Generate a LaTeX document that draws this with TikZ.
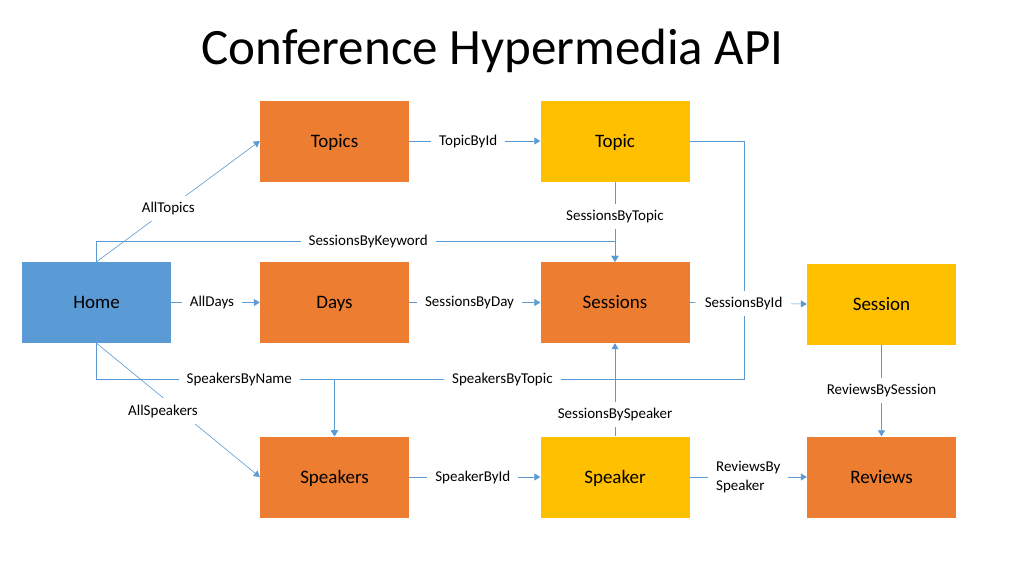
\documentclass[tikz,border=0pt]{standalone}
\usepackage{fontspec}
\setmainfont{Carlito}
\usetikzlibrary{arrows.meta}
\definecolor{hblue}{HTML}{5B9BD5}
\definecolor{horange}{HTML}{ED7D31}
\definecolor{hyellow}{HTML}{FFC000}
\definecolor{hline}{HTML}{5B9BD5}
\begin{document}
\begin{tikzpicture}[x=1pt,y=-1pt,
  box/.style={minimum width=149pt, minimum height=81pt, inner sep=0pt,
    text height=12.5pt, text depth=0pt,
    font=\fontsize{19}{21}\selectfont, text=black},
  bluebox/.style={box, fill=hblue},
  orangebox/.style={box, fill=horange},
  yellowbox/.style={box, fill=hyellow},
  conn/.style={draw=hline, line width=0.6pt, -{Triangle[width=7pt,length=6pt]}},
  lbl/.style={fill=white, inner xsep=8pt, inner ysep=6pt,
    font=\fontsize{15}{19}\selectfont, text=black},
  titlefont/.style={font=\fontsize{51}{56}\selectfont, text=black}]
\useasboundingbox (0,0) rectangle (1024,576);
\fill[white] (0,0) rectangle (1024,576);

\node[titlefont] (title) at (492.5,51) {Conference Hypermedia API};

\node[bluebox]   (home)     at (96.5,302.5) {Home};
\node[orangebox] (topics)   at (334.5,141)  {Topics};
\node[yellowbox] (topic)    at (615,141)    {Topic};
\node[orangebox] (days)     at (334.5,302.5) {Days};
\node[orangebox] (sessions) at (615,302.5)  {Sessions};
\node[yellowbox] (session)  at (881.5,304)  {Session};
\node[orangebox] (speakers) at (334.5,477)  {Speakers};
\node[yellowbox] (speaker)  at (615,477)    {Speaker};
\node[orangebox] (reviews)  at (881.5,477)  {Reviews};

\coordinate (kw) at (96.5,241);
\coordinate (tb) at (744,379.5);

% SessionsByKeyword
\draw[conn] (home.north) -- (kw) -| node[lbl, pos=0.262] {SessionsByKeyword} (sessions.north);
% AllTopics
\draw[conn] (home.north) -- node[lbl, pos=0.44] {AllTopics} (topics.west);
% TopicById
\draw[conn] (topics.east) -- node[lbl, pos=0.45] {TopicById} (topic.west);
% SessionsByTopic
\draw[conn] (topic.south) -- node[lbl, pos=0.43] {SessionsByTopic} (sessions.north);
% AllDays
\draw[conn] (home.east) -- node[lbl, pos=0.46] {AllDays} (days.west);
% SessionsByDay
\draw[conn] (days.east) -- node[lbl, pos=0.46] {SessionsByDay} (sessions.west);
% SpeakersByTopic
\draw[conn] (topic.east) -| (tb) -| node[lbl, pos=0.295] {SpeakersByTopic} (speakers.north);
% SpeakersByName
\draw[conn] (home.south) |- node[lbl, pos=0.8] {SpeakersByName} (speakers.north |- tb) -- (speakers.north);
% SessionsById
\draw[conn] (sessions.east) -- node[lbl, pos=0.46, inner xsep=9pt] {SessionsById} (session.west);
% AllSpeakers
\draw[conn] (home.south) -- (speakers.west);
\node[lbl, inner ysep=6.5pt] (allspk) at (163,411) {AllSpeakers};
% SpeakerById
\draw[conn] (speakers.east) -- node[lbl, pos=0.485] {SpeakerById} (speaker.west);
% SessionsBySpeaker
\draw[conn] (speaker.north) -- node[lbl, pos=0.23] {SessionsBySpeaker} (sessions.south);
% ReviewsBySpeaker
\draw[conn] (speaker.east) -- node[lbl, pos=0.5, align=left] {ReviewsBy\\Speaker} (reviews.west);
% ReviewsBySession
\draw[conn] (session.south) -- node[lbl, pos=0.5] {ReviewsBySession} (reviews.north);
\end{tikzpicture}
\end{document}
